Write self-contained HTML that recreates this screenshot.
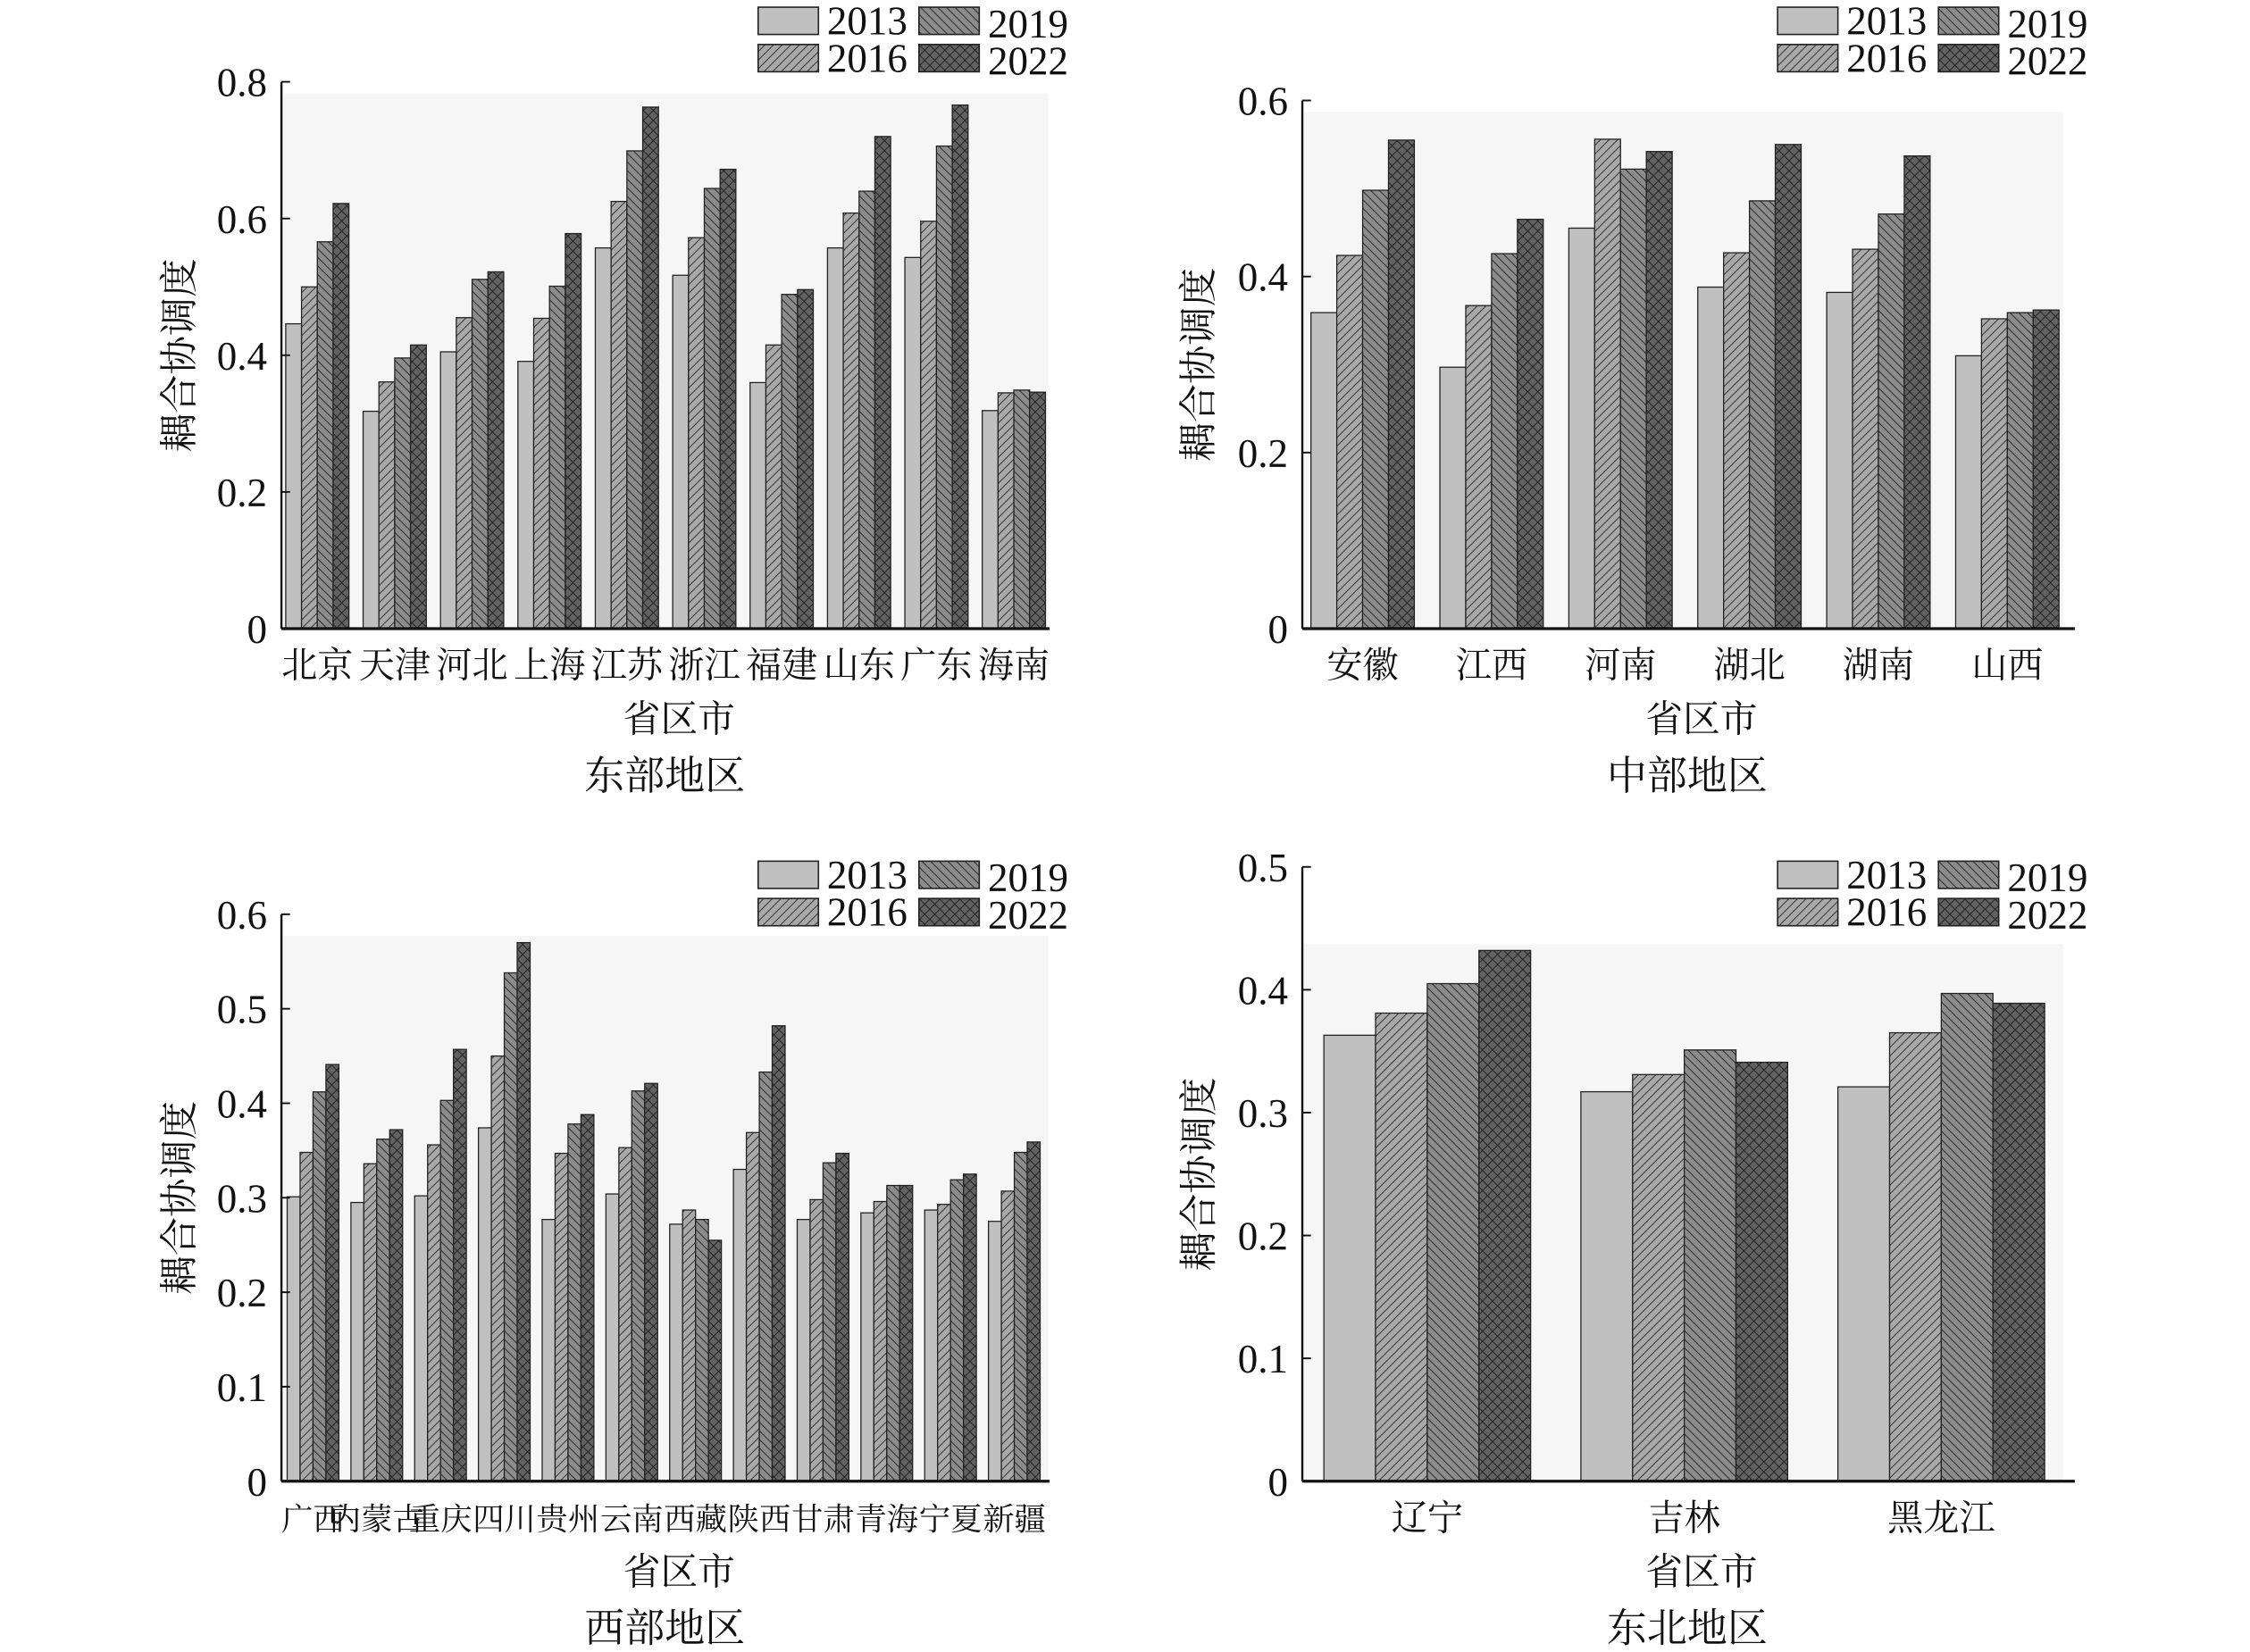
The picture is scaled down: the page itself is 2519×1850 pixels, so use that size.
<!DOCTYPE html>
<html><head><meta charset="utf-8">
<style>
html,body{margin:0;padding:0;background:#fff;}
svg{display:block;}
text{font-family:"Liberation Serif","Noto Serif CJK SC","Noto Sans CJK SC",serif;fill:#111;}
</style></head>
<body>
<svg id="s" xmlns="http://www.w3.org/2000/svg" width="2519" height="1850" viewBox="0 0 1567 1151" preserveAspectRatio="none">
<defs>
<pattern id="p16" patternUnits="userSpaceOnUse" width="6" height="6"><rect width="6" height="6" fill="#a9a9a9"/><path d="M-1,7 L7,-1 M-1,1 L1,-1 M5,7 L7,5" stroke="#333" stroke-width="0.6"/></pattern>
<pattern id="p19" patternUnits="userSpaceOnUse" width="6" height="6"><rect width="6" height="6" fill="#8c8c8c"/><path d="M-1,-1 L7,7 M5,-1 L7,1 M-1,5 L1,7" stroke="#2a2a2a" stroke-width="0.6"/></pattern>
<pattern id="p22" patternUnits="userSpaceOnUse" width="7" height="7"><rect width="7" height="7" fill="#626262"/><path d="M0,0 L7,7 M7,0 L0,7" stroke="#222" stroke-width="0.6"/></pattern>
</defs>
</svg>
<script>
var S=document.getElementById('s'),NS='http://www.w3.org/2000/svg';
function el(t,a,txt){var e=document.createElementNS(NS,t);for(var k in a)e.setAttribute(k,a[k]);if(txt!==undefined)e.textContent=txt;S.appendChild(e);return e;}
var fills=['#c0c0c0','url(#p16)','url(#p19)','url(#p22)'];
function panel(o){
 var sc=(o.y0-o.ytop)/o.ymax;
 el('rect',{x:o.x0+1,y:o.bgTop,width:o.x1-o.x0-1,height:o.y0-o.bgTop,fill:'#f6f6f6'});
 for(var i=0;i<o.cats.length;i++){
  var c=o.c0+i*o.sp;
  for(var j=0;j<4;j++){
   var v=o.vals[i][j],h=v*sc,x=c-2*o.bw+j*o.bw;
   el('rect',{x:x,y:o.y0-h,width:o.bw,height:h,fill:fills[j],stroke:'#222','stroke-width':0.8});
  }
  el('text',{x:c,y:o.y0+34,'font-size':o.cf,'text-anchor':'middle'},o.cats[i]);
 }
 el('line',{x1:o.x0,y1:o.ytop,x2:o.x0,y2:o.y0,stroke:'#111','stroke-width':1.5});
 el('line',{x1:o.x0,y1:o.y0,x2:o.xaxEnd,y2:o.y0,stroke:'#111','stroke-width':2});
 for(var t=0;t<=o.ymax+1e-9;t+=o.step){
  var y=o.y0-t*sc;
  el('line',{x1:o.x0,y1:y,x2:o.x0+6,y2:y,stroke:'#111','stroke-width':1.2});
  var lab=t<1e-9?'0':(Math.round(t*10)/10).toFixed(1);
  el('text',{x:o.x0-10,y:y+10,'font-size':28,'text-anchor':'end'},lab);
 }
 var ly=(o.y0+o.ytop)/2;
 el('text',{x:o.ylx,y:ly,'font-size':27,'text-anchor':'middle',transform:'rotate(-90 '+o.ylx+' '+ly+')',dy:9},'耦合协调度');
 el('text',{x:o.xlx,y:o.y0+72,'font-size':26,'text-anchor':'middle'},'省区市');
 el('text',{x:o.tx,y:o.y0+112,'font-size':28,'text-anchor':'middle'},o.title);
 var L=o.leg,labs=['2013','2016','2019','2022'];
 for(var k=0;k<4;k++){
  var col=k<2?0:1,row=k%2,bx=L.x+col*112,by=L.y+row*26;
  el('rect',{x:bx,y:by,width:42,height:19,fill:fills[k],stroke:'#222','stroke-width':1});
  el('text',{x:bx+48,y:by+19+(col?2:0),'font-size':28},labs[k]);
 }
}
panel({x0:196,x1:730,xaxEnd:731,y0:438,ytop:57,ymax:0.8,step:0.2,bgTop:65,c0:221,sp:53.9,bw:11,cf:25,ylx:125,xlx:473,tx:463,title:'东部地区',leg:{x:528,y:5},
 cats:['北京','天津','河北','上海','江苏','浙江','福建','山东','广东','海南'],
 vals:[[.446,.50,.566,.622],[.318,.361,.396,.415],[.405,.455,.511,.522],[.391,.454,.501,.578],[.557,.625,.699,.763],[.517,.572,.644,.672],[.360,.415,.489,.496],[.557,.608,.640,.720],[.543,.596,.706,.766],[.319,.345,.349,.346]]});
panel({x0:907,x1:1437,xaxEnd:1445,y0:438,ytop:70,ymax:0.6,step:0.2,bgTop:78,c0:949,sp:89.8,bw:18,cf:25,ylx:835,xlx:1185,tx:1175,title:'中部地区',leg:{x:1238,y:5},
 cats:['安徽','江西','河南','湖北','湖南','山西'],
 vals:[[.359,.424,.498,.555],[.297,.367,.426,.465],[.455,.556,.522,.542],[.388,.427,.486,.550],[.382,.431,.471,.537],[.310,.352,.359,.362]]});
panel({x0:196,x1:730,xaxEnd:731,y0:1032,ytop:637,ymax:0.6,step:0.1,bgTop:652,c0:218,sp:44.4,bw:9,cf:22,ylx:125,xlx:473,tx:463,title:'西部地区',leg:{x:528,y:600},
 cats:['广西','内蒙古','重庆','四川','贵州','云南','西藏','陕西','甘肃','青海','宁夏','新疆'],
 vals:[[.301,.348,.412,.441],[.295,.336,.362,.372],[.302,.356,.403,.457],[.374,.450,.538,.570],[.277,.347,.378,.388],[.304,.353,.413,.421],[.272,.287,.277,.255],[.330,.369,.433,.482],[.277,.298,.337,.347],[.284,.296,.313,.313],[.287,.293,.319,.325],[.275,.307,.348,.359]]});
panel({x0:907,x1:1437,xaxEnd:1445,y0:1032,ytop:604,ymax:0.5,step:0.1,bgTop:658,c0:994,sp:179,bw:36,cf:25,ylx:835,xlx:1185,tx:1175,title:'东北地区',leg:{x:1238,y:600},
 cats:['辽宁','吉林','黑龙江'],
 vals:[[.363,.381,.405,.432],[.317,.331,.351,.341],[.321,.365,.397,.389]]});
</script>
</body></html>
